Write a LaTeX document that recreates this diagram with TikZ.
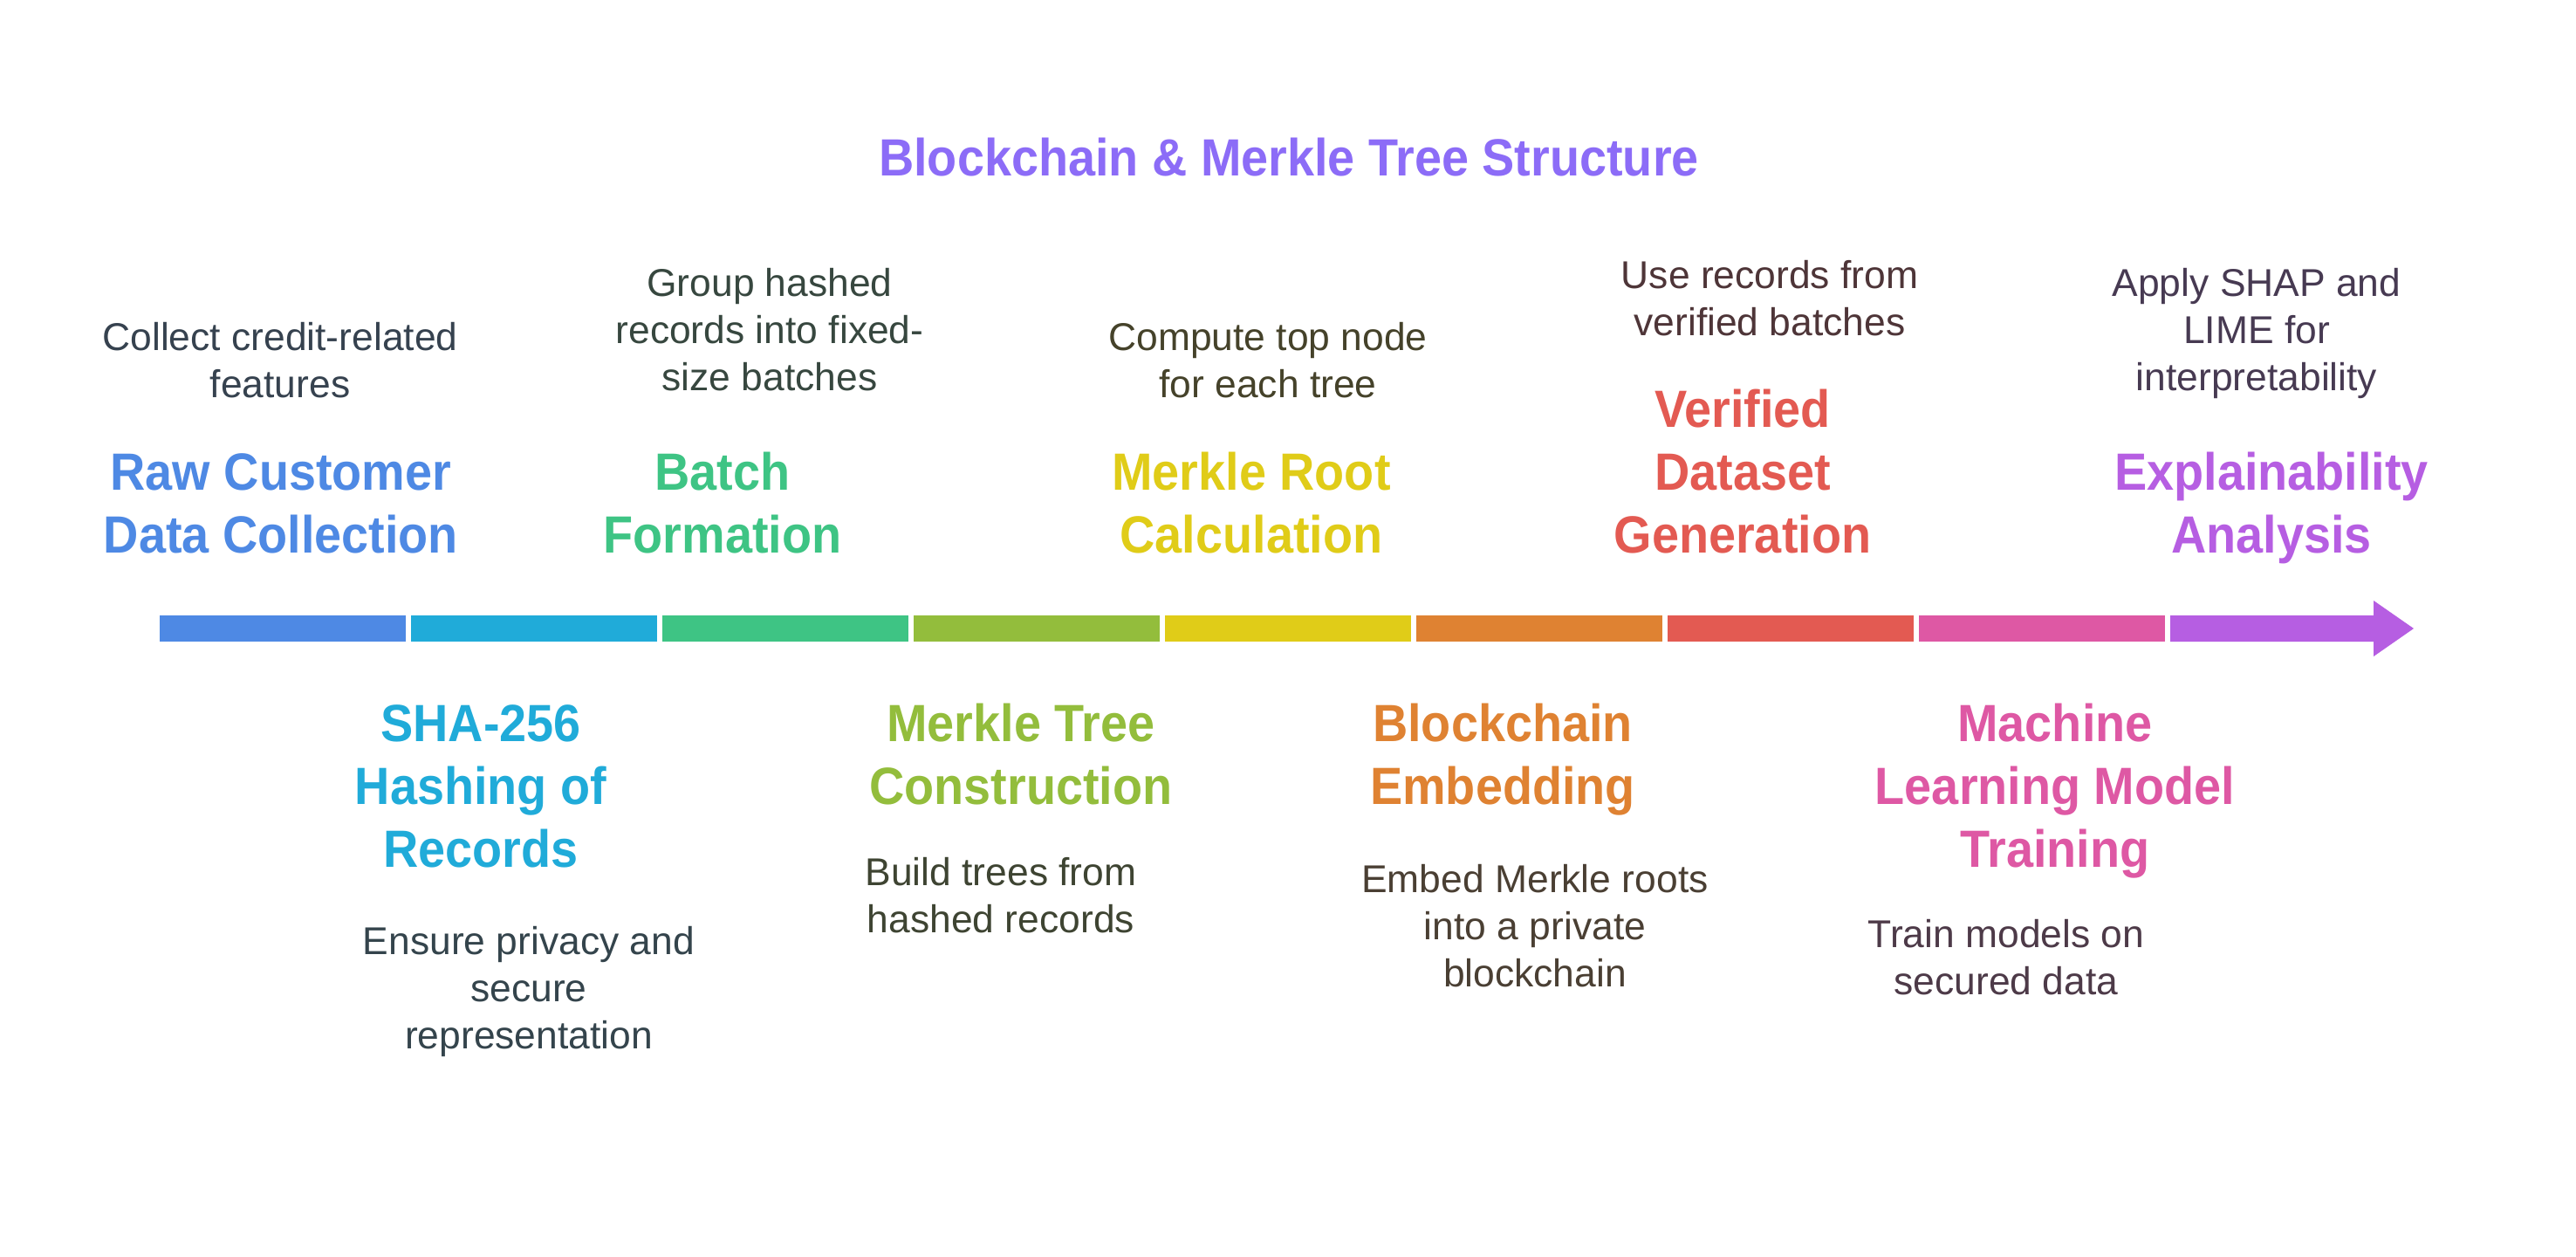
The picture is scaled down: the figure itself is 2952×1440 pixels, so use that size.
\documentclass[tikz,border=0pt]{standalone}
\usepackage{fontspec}
\setmainfont{Liberation Sans}
\newfontfamily\hfont[FakeStretch=0.93]{Liberation Sans}
\definecolor{c1}{HTML}{4E89E4}
\definecolor{c2}{HTML}{20ABD9}
\definecolor{c3}{HTML}{3EC484}
\definecolor{c4}{HTML}{93BD3C}
\definecolor{c5}{HTML}{E0CC18}
\definecolor{c6}{HTML}{DF8232}
\definecolor{c7}{HTML}{E35A52}
\definecolor{c8}{HTML}{DE58A4}
\definecolor{c9}{HTML}{B65EE2}
\definecolor{ct}{HTML}{8C6CF7}
\definecolor{d1}{HTML}{36424F}
\definecolor{d2}{HTML}{34444C}
\definecolor{d3}{HTML}{37473F}
\definecolor{d4}{HTML}{3E4432}
\definecolor{d5}{HTML}{45422A}
\definecolor{d6}{HTML}{4A3F33}
\definecolor{d7}{HTML}{4E3538}
\definecolor{d8}{HTML}{4D3A48}
\definecolor{d9}{HTML}{473A52}
\begin{document}
\begin{tikzpicture}[x=0.5pt,y=-0.5pt,
  ttl/.style={font=\hfont\bfseries\fontsize{30}{36}\selectfont, align=center, inner sep=0pt, anchor=base},
  dsc/.style={font=\fontsize{22.2}{27}\selectfont, align=center, inner sep=0pt, anchor=base},
  seg/.style={rectangle, inner sep=0pt, minimum width=141pt, minimum height=15pt, anchor=north west}]
\path[use as bounding box, fill=white] (0,0) rectangle (2952,1440);

% title
\node[ttl, text=ct] (title) at (1477,201) {Blockchain \& Merkle Tree Structure};

% bar segments
\node[seg, fill=c1] (s1) at (183,705) {};
\node[seg, fill=c2] (s2) at (471,705) {};
\node[seg, fill=c3] (s3) at (759,705) {};
\node[seg, fill=c4] (s4) at (1047,705) {};
\node[seg, fill=c5] (s5) at (1335,705) {};
\node[seg, fill=c6] (s6) at (1623,705) {};
\node[seg, fill=c7] (s7) at (1911,705) {};
\node[seg, fill=c8] (s8) at (2199,705) {};
\fill[c9] (2487,705) -- (2720,705) -- (2720,688) -- (2766,720) -- (2720,752) -- (2720,735) -- (2487,735) -- cycle;

% top row (coordinates give the baseline of the last line)
\node[dsc, text=d1] (n1d) at (321,455) {Collect credit-related\\features};
\node[ttl, text=c1] (n1t) at (322,633) {Raw Customer\\Data Collection};
\node[dsc, text=d3] (n3d) at (882,447) {Group hashed\\records into fixed-\\size batches};
\node[ttl, text=c3] (n3t) at (828,633) {Batch\\Formation};
\node[dsc, text=d5] (n5d) at (1453,455) {Compute top node\\for each tree};
\node[ttl, text=c5] (n5t) at (1434,633) {Merkle Root\\Calculation};
\node[dsc, text=d7] (n7d) at (2028,384) {Use records from\\verified batches};
\node[ttl, text=c7] (n7t) at (1997,633) {Verified\\Dataset\\Generation};
\node[dsc, text=d9] (n9d) at (2586,447) {Apply SHAP and\\LIME for\\interpretability};
\node[ttl, text=c9] (n9t) at (2603,633) {Explainability\\Analysis};

% bottom row
\node[ttl, text=c2] (n2t) at (551,993) {SHA-256\\Hashing of\\Records};
\node[dsc, text=d2] (n2d) at (606,1201) {Ensure privacy and\\secure\\representation};
\node[ttl, text=c4] (n4t) at (1170,921) {Merkle Tree\\Construction};
\node[dsc, text=d4] (n4d) at (1147,1068) {Build trees from\\hashed records};
\node[ttl, text=c6] (n6t) at (1722,921) {Blockchain\\Embedding};
\node[dsc, text=d6] (n6d) at (1759,1130) {Embed Merkle roots\\into a private\\blockchain};
\node[ttl, text=c8] (n8t) at (2355,993) {Machine\\Learning Model\\Training};
\node[dsc, text=d8] (n8d) at (2299,1139) {Train models on\\secured data};
\end{tikzpicture}
\end{document}
